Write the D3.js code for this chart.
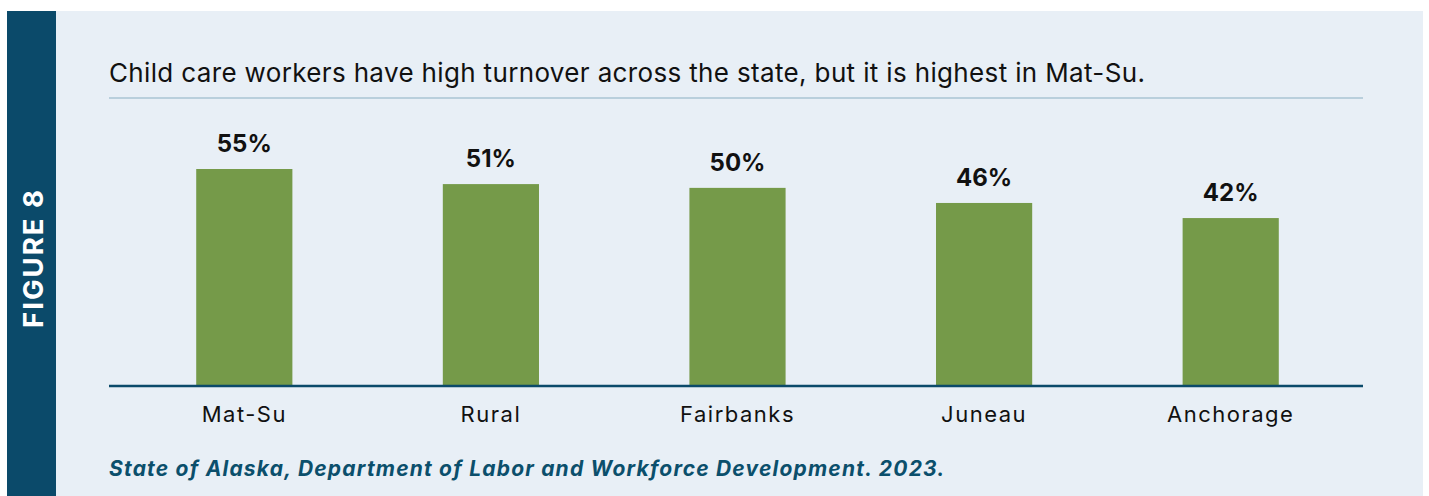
<!DOCTYPE html>
<html>
  <head>
    <meta charset="UTF-8" />
    <title>Figure 8 - Child care worker turnover</title>
    <style>
      body,
      html {
        margin: 0;
        padding: 0;
        overflow: hidden;
        background: #fff;
      }
      svg {
        display: block;
        font-family: Inter, "Noto Sans", sans-serif;
      }
    </style>
  </head>
  <body>
    <svg id="chart"></svg>
    <script src="https://d3js.org/d3.v7.min.js"></script>
    <script>
      const regions = ["Mat-Su", "Rural", "Fairbanks", "Juneau", "Anchorage"];
      const turnover = [55, 51, 50, 46, 42];
      const title =
        "Child care workers have high turnover across the state, but it is highest in Mat-Su.";
      const source =
        "State of Alaska, Department of Labor and Workforce Development. 2023.";
      const figureLabel = "FIGURE 8";

      const width = 1429;
      const height = 496;

      const svg = d3.select("#chart").attr("width", width).attr("height", height);

      // side band + panel
      svg.append("rect").attr("x", 7).attr("y", 11).attr("width", 49).attr("height", height - 11).attr("fill", "#0b4a6a");
      svg.append("rect").attr("x", 56).attr("y", 11).attr("width", 1367).attr("height", height - 11).attr("fill", "#e8eff6");

      svg
        .append("text")
        .attr("transform", "translate(42.5,258) rotate(-90)")
        .attr("text-anchor", "middle")
        .attr("fill", "#fff")
        .attr("font-size", 27.5)
        .attr("font-weight", 700)
        .attr("letter-spacing", 2)
        .text(figureLabel);

      svg
        .append("text")
        .attr("x", 109)
        .attr("y", 82)
        .attr("fill", "#111")
        .attr("font-size", 26)
        .attr("letter-spacing", 0.35)
        .text(title);

      svg.append("line").attr("x1", 109).attr("x2", 1363).attr("y1", 98).attr("y2", 98).attr("stroke", "#b9cfdc").attr("stroke-width", 2);

      const x = d3.scaleBand().domain(regions).range([121, 1354]).paddingInner(0.61).paddingOuter(0.305);
      // axis floor sits a little below zero in the original
      const y = d3.scaleLinear().domain([-2.5, 55]).range([386, 169]);

      svg
        .selectAll(".bar")
        .data(regions)
        .join("rect")
        .attr("class", "bar")
        .attr("x", (d) => x(d))
        .attr("width", x.bandwidth())
        .attr("y", (d, i) => y(turnover[i]))
        .attr("height", (d, i) => y.range()[0] - y(turnover[i]))
        .attr("fill", "#759a49");

      svg
        .selectAll(".value")
        .data(regions)
        .join("text")
        .attr("class", "value")
        .attr("x", (d) => x(d) + x.bandwidth() / 2)
        .attr("y", (d, i) => y(turnover[i]) - 17)
        .attr("text-anchor", "middle")
        .attr("font-size", 24)
        .attr("font-weight", 700)
        .attr("fill", "#111")
        .text((d, i) => turnover[i] + "%");

      const axis = svg
        .append("g")
        .attr("transform", "translate(0,386)")
        .call(d3.axisBottom(x).tickSize(0).tickPadding(20));
      axis.select(".domain").remove();
      axis.selectAll("text").attr("font-size", 22).attr("letter-spacing", 1.5).attr("fill", "#111").attr("font-family", "Inter, sans-serif");

      svg.append("line").attr("x1", 109).attr("x2", 1363).attr("y1", 386).attr("y2", 386).attr("stroke", "#0b4a6a").attr("stroke-width", 2.5);

      svg
        .append("text")
        .attr("x", 109)
        .attr("y", 476)
        .attr("fill", "#0b4f6c")
        .attr("font-size", 21)
        .attr("font-weight", 700)
        .attr("font-style", "italic")
        .attr("letter-spacing", 1.2)
        .text(source);
    </script>
  </body>
</html>
